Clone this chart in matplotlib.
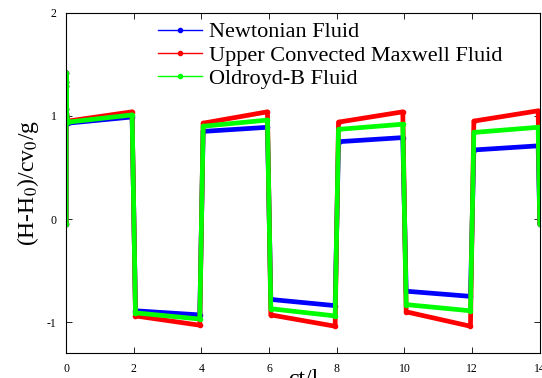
import matplotlib
matplotlib.use("Agg")
import matplotlib.pyplot as plt
from matplotlib.lines import Line2D

# half-period boundaries (ct/l)
t_edges = [0, 2, 4, 6, 8, 10, 12, 14]

# plateau start / end values of each half period
newt_start = [0.93, -0.89, 0.85, -0.78, 0.75, -0.70, 0.67]
newt_end = [0.99, -0.93, 0.89, -0.84, 0.79, -0.75, 0.71]
ucm_start = [0.95, -0.94, 0.93, -0.93, 0.94, -0.90, 0.95]
ucm_end = [1.04, -1.03, 1.04, -1.04, 1.04, -1.04, 1.05]
old_start = [0.94, -0.91, 0.90, -0.87, 0.87, -0.83, 0.84]
old_end = [1.01, -0.97, 0.96, -0.94, 0.92, -0.89, 0.89]

init_vals = [-0.05, 1.42, 1.33, 1.29, 1.07]
final_val = -0.05

labels = ["Newtonian Fluid", "Upper Convected Maxwell Fluid", "Oldroyd-B Fluid"]
colors = ["#0000ff", "#ff0000", "#00ff00"]

plt.rcParams["font.family"] = ["Liberation Serif", "DejaVu Serif"]
plt.rcParams["mathtext.fontset"] = "stix"
plt.rcParams["axes.unicode_minus"] = False

fig = plt.figure(figsize=(5.42, 3.78), dpi=100)
ax = fig.add_axes([0.122, 0.066, 0.874, 0.9])


def build(starts, ends):
    xs, ys = [], []
    for v in init_vals:
        xs.append(0.0)
        ys.append(v)
    dt = 0.05
    for k in range(len(starts)):
        xs += [t_edges[k] + dt, t_edges[k + 1] - dt]
        ys += [starts[k], ends[k]]
    xs.append(t_edges[-1])
    ys.append(final_val)
    return xs, ys


series = [(newt_start, newt_end), (ucm_start, ucm_end), (old_start, old_end)]
for (s, e), c, lab in zip(series, colors, labels):
    xs, ys = build(s, e)
    ax.plot(xs, ys, color=c, lw=3.4, solid_joinstyle="round", solid_capstyle="round")
    ax.plot(xs, ys, color=c, lw=0, marker="o", ms=3)

ax.set_xlim(0, 14)
ax.set_ylim(-1.3, 2)
ax.set_xticks([0, 2, 4, 6, 8, 10, 12, 14])
ax.set_yticks([-1, 0, 1, 2])
ax.tick_params(direction="in", top=True, right=True, labelsize=8.5, length=4, width=0.6, pad=7)
for sp in ax.spines.values():
    sp.set_linewidth(0.8)

ax.set_xlabel("ct/l", fontsize=17, labelpad=-4)
ax.set_ylabel("(H-H$_0$)/cv$_0$/g", fontsize=17, labelpad=4)

handles = [Line2D([0], [0], color=c, lw=1, marker="o", ms=3) for c in colors]
ax.legend(handles, labels, loc="upper left", bbox_to_anchor=(0.175, 1.0), frameon=False,
          fontsize=16, handlelength=2.0, handletextpad=0.3, labelspacing=0.13, borderaxespad=0.0)

fig.savefig("out.png", dpi=100)
